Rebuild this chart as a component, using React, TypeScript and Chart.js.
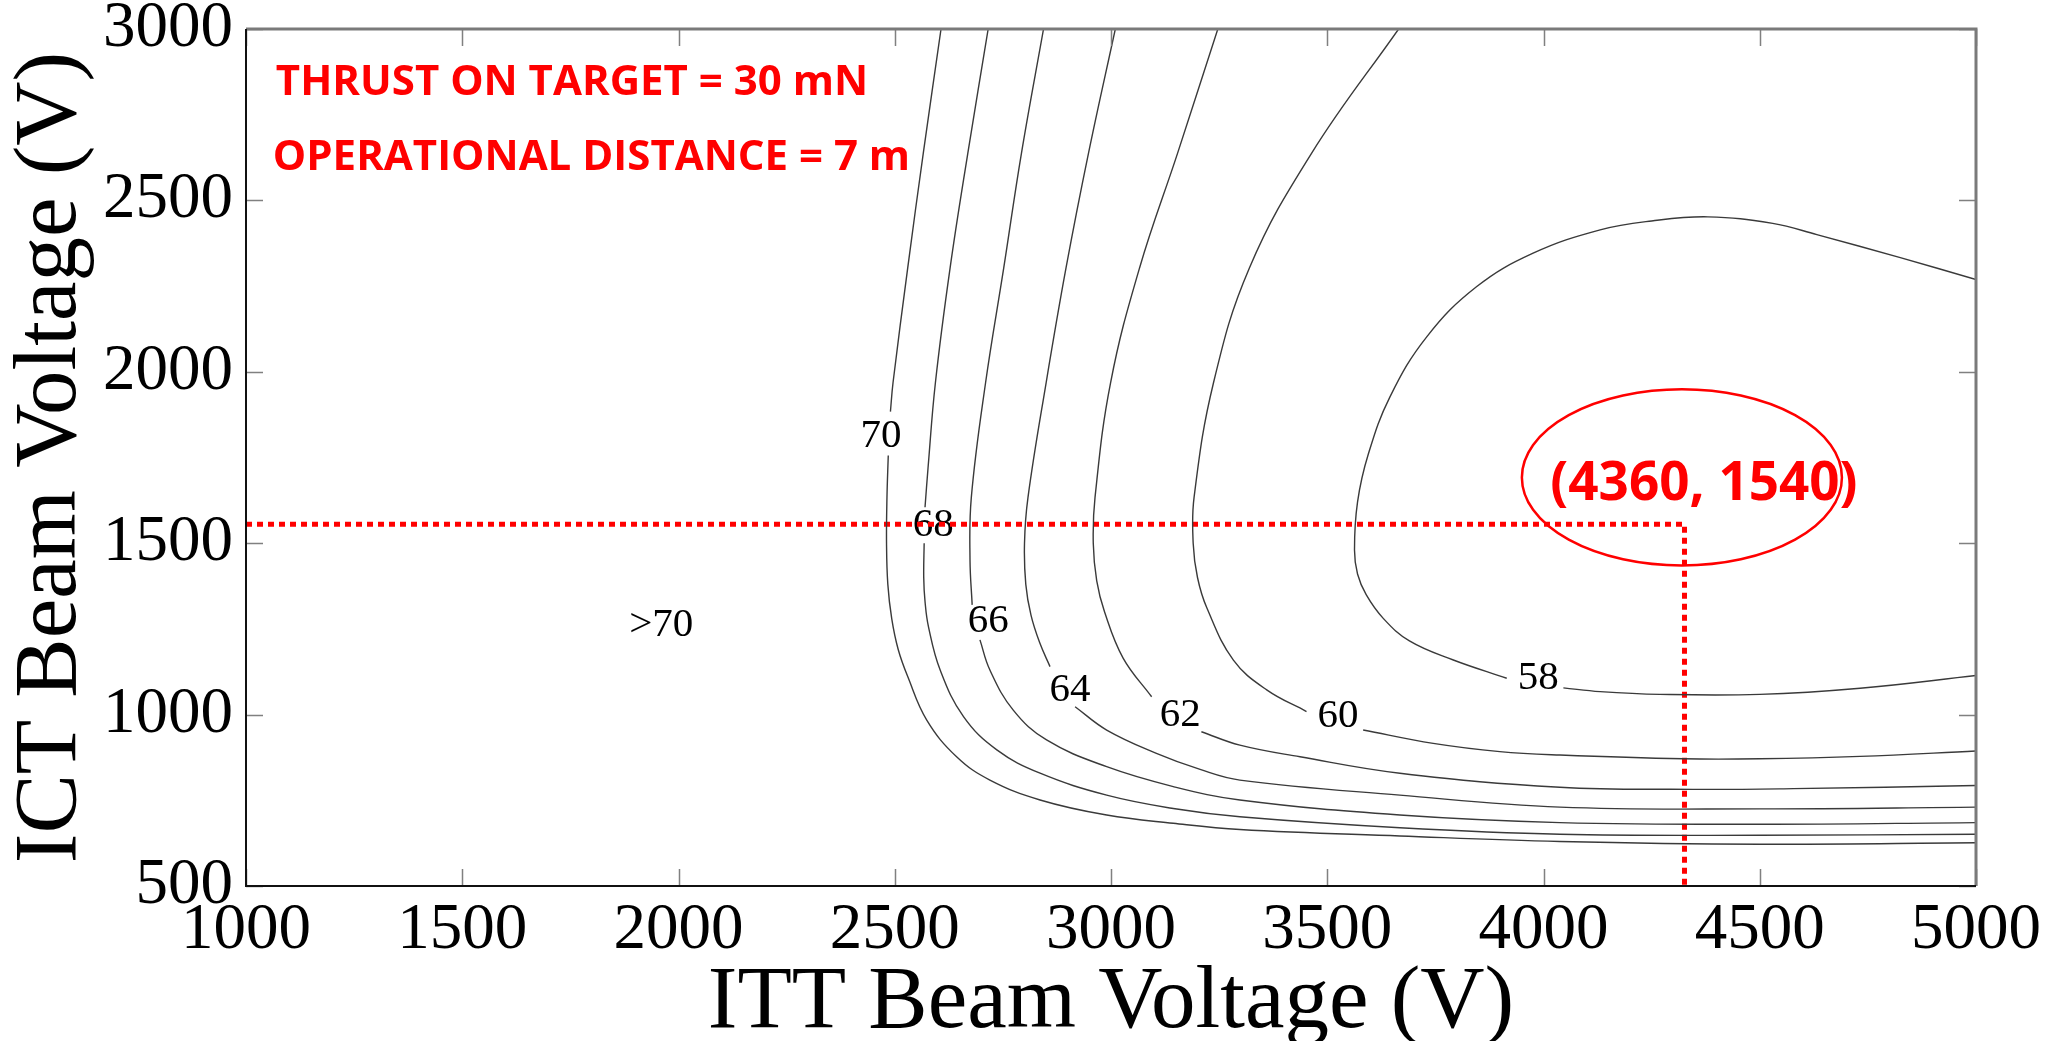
import React, { useEffect, useRef } from 'react';
import { Chart, registerables } from 'chart.js';

Chart.register(...registerables);

// ---- Axis ----
const xMin = 1000;
const xMax = 5000;
const yMin = 500;
const yMax = 3000;
const tickStep = 500;
const xTitle = 'ITT Beam Voltage (V)';
const yTitle = 'ICT Beam Voltage (V)';

// ---- Contour lines (null = gap for inline label) ----
const c70X = [2607, 2566, 2530, 2496, 2490, null, 2485, 2482, 2481, 2484, 2493, 2508, 2530, 2574, 2643, 2720, 2836, 2990, 3144, 3298, 3668, 4038, 4500, 5000];
const c70Y = [3000, 2638, 2303, 1968, 1884, null, 1756, 1633, 1500, 1380, 1280, 1190, 1111, 984, 877, 809, 751, 707, 683, 665, 646, 630, 622, 626];

const c68X = [2716, 2669, 2628, 2594, 2577, 2570, null, 2568, 2567, 2570, 2578, 2605, 2659, 2736, 2836, 2990, 3144, 3298, 3668, 4038, 4500, 5000];
const c68Y = [3000, 2638, 2303, 1968, 1720, 1605, null, 1500, 1400, 1330, 1256, 1130, 994, 897, 829, 765, 726, 702, 670, 651, 648, 651];

const c66X = [2844, 2793, 2752, 2710, 2677, 2674, 2679, null, 2697, 2720, 2774, 2851, 2990, 3144, 3298, 3668, 4038, 4500, 5000];
const c66Y = [3000, 2638, 2303, 1968, 1633, 1451, 1320, null, 1218, 1130, 1013, 926, 848, 790, 751, 707, 685, 680, 685];

const c64X = [3010, 2948, 2896, 2850, 2808, 2800, 2803, 2815, 2835, 2859, null, 2917, 2990, 3105, 3206, 3298, 3668, 4038, 4500, 5000];
const c64Y = [3000, 2638, 2303, 1968, 1633, 1500, 1380, 1290, 1210, 1140, null, 1023, 955, 887, 840, 809, 765, 730, 725, 730];

const c62X = [3247, 3154, 3066, 2999, 2963, 2959, 2967, 2985, 3028, 3094, null, 3209, 3298, 3437, 3668, 4038, 4346, 4578, 5000];
const c62Y = [3000, 2638, 2303, 1968, 1633, 1500, 1390, 1300, 1165, 1052, null, 950, 911, 877, 829, 788, 782, 784, 793];

const c60X = [3665, 3464, 3320, 3237, 3192, 3190, 3200, 3222, 3283, 3360, 3452, null, 3583, 3745, 3899, 4038, 4323, 4500, 4732, 5000];
const c60Y = [3000, 2638, 2303, 1968, 1633, 1500, 1400, 1310, 1159, 1072, 1009, null, 955, 916, 892, 882, 871, 871, 878, 894];

const c58X = [5000, 4825, 4632, 4530, 4380, 4250, 4131, 3976, 3845, 3730, 3645, 3595, 3570, 3563, 3570, 3590, 3630, 3690, 3790, 3915, null, 4046, 4131, 4269, 4500, 4732, 5000];
const c58Y = [2269, 2333, 2400, 2433, 2452, 2440, 2414, 2346, 2248, 2102, 1927, 1760, 1620, 1480, 1410, 1350, 1280, 1215, 1160, 1106, null, 1078, 1067, 1059, 1059, 1077, 1114];

// ---- Contour labels ----
const contourLabels = ['70', '68', '66', '64', '62', '60', '58', '>70'];
const contourLabelX = [2468, 2589, 2716, 2905, 3160, 3525, 3988, 1960];
const contourLabelY = [1812, 1553, 1271, 1072, 999, 994, 1106, 1260];

// ---- Operating point markers ----
const markerX = [1000, 4326, 4326];
const markerY = [1555, 1555, 500];
const ellipseCenterX = 4320;
const ellipseCenterY = 1692;
const ellipseRadiusX = 370;
const ellipseRadiusY = 257;
const pointLabel = '(4360, 1540)';
const pointLabelX = 4371;
const pointLabelY = 1670;

// ---- Header annotations ----
const noteTexts = ['THRUST ON TARGET = 30 mN', 'OPERATIONAL DISTANCE = 7 m'];
const noteX = [1069, 1062];
const noteY = [2842, 2624];

const contourXs = [c70X, c68X, c66X, c64X, c62X, c60X, c58X];
const contourYs = [c70Y, c68Y, c66Y, c64Y, c62Y, c60Y, c58Y];

const SERIF = '"Liberation Serif", "DejaVu Serif", serif';
const SANS = '"Open Sans", "Noto Sans", sans-serif';

const labelPlugin = {
  id: 'contourLabels',
  beforeDatasetsDraw(chart: any) {
    const { ctx, scales } = chart;
    const xs = scales.x;
    const ys = scales.y;
    ctx.save();
    ctx.fillStyle = '#000';
    ctx.font = `41px ${SERIF}`;
    ctx.textAlign = 'center';
    ctx.textBaseline = 'middle';
    contourLabels.forEach((t, i) => {
      ctx.fillText(t, xs.getPixelForValue(contourLabelX[i]), ys.getPixelForValue(contourLabelY[i]));
    });
    ctx.restore();
  },
  afterDatasetsDraw(chart: any) {
    const { ctx, scales } = chart;
    const xs = scales.x;
    const ys = scales.y;
    ctx.save();
    const cx = xs.getPixelForValue(ellipseCenterX);
    const cy = ys.getPixelForValue(ellipseCenterY);
    const rx = Math.abs(xs.getPixelForValue(ellipseCenterX + ellipseRadiusX) - cx);
    const ry = Math.abs(ys.getPixelForValue(ellipseCenterY + ellipseRadiusY) - cy);
    ctx.strokeStyle = '#ff0000';
    ctx.lineWidth = 2.5;
    ctx.beginPath();
    ctx.ellipse(cx, cy, rx, ry, 0, 0, Math.PI * 2);
    ctx.stroke();
    ctx.fillStyle = '#ff0000';
    ctx.font = `bold 53px ${SANS}`;
    ctx.textAlign = 'center';
    ctx.textBaseline = 'middle';
    ctx.fillText(pointLabel, xs.getPixelForValue(pointLabelX), ys.getPixelForValue(pointLabelY));
    ctx.font = `bold 42px ${SANS}`;
    ctx.textAlign = 'left';
    noteTexts.forEach((t, i) => {
      ctx.fillText(t, xs.getPixelForValue(noteX[i]), ys.getPixelForValue(noteY[i]));
    });
    ctx.restore();
  },
  afterDraw(chart: any) {
    const { ctx, chartArea, scales } = chart;
    const { left, right, top, bottom } = chartArea;
    const tl = 17;
    ctx.save();
    ctx.strokeStyle = '#808080';
    ctx.lineWidth = 1.5;
    ctx.beginPath();
    scales.x.ticks.forEach((t: any) => {
      const px = Math.round(scales.x.getPixelForValue(t.value)) + 0.5;
      ctx.moveTo(px, bottom);
      ctx.lineTo(px, bottom - tl);
      ctx.moveTo(px, top);
      ctx.lineTo(px, top + tl);
    });
    scales.y.ticks.forEach((t: any) => {
      const py = Math.round(scales.y.getPixelForValue(t.value)) + 0.5;
      ctx.moveTo(left, py);
      ctx.lineTo(left + tl, py);
      ctx.moveTo(right, py);
      ctx.lineTo(right - tl, py);
    });
    ctx.stroke();
    ctx.strokeStyle = '#7a7a7a';
    ctx.lineWidth = 3;
    ctx.beginPath();
    ctx.moveTo(left, top);
    ctx.lineTo(right, top);
    ctx.lineTo(right, bottom);
    ctx.stroke();
    ctx.strokeStyle = '#111';
    ctx.lineWidth = 2;
    ctx.beginPath();
    ctx.moveTo(left, top);
    ctx.lineTo(left, bottom);
    ctx.lineTo(right, bottom);
    ctx.stroke();
    ctx.restore();
  },
};

export default function App() {
  const ref = useRef<HTMLCanvasElement | null>(null);
  useEffect(() => {
    if (!ref.current) return;
    const datasets: any[] = contourXs.map((xsArr, k) => ({
      label: 'c' + k,
      data: xsArr.map((x, i) => ({ x, y: contourYs[k][i] })),
      showLine: true,
      borderColor: '#3a3a3a',
      borderWidth: 1.4,
      pointRadius: 0,
      tension: 0.4,
      spanGaps: false,
    }));
    datasets.push({
      label: 'marker',
      data: markerX.map((x, i) => ({ x, y: markerY[i] })),
      showLine: true,
      borderColor: '#ff0000',
      borderWidth: 5,
      borderDash: [6, 5],
      borderCapStyle: 'butt',
      pointRadius: 0,
      tension: 0,
    });
    const chart = new Chart(ref.current, {
      type: 'scatter',
      data: { datasets },
      options: {
        animation: false,
        responsive: false,
        devicePixelRatio: 1,
        layout: { padding: { top: 69, right: 79, bottom: 0, left: 0 } },
        plugins: { legend: { display: false }, tooltip: { enabled: false } },
        scales: {
          x: {
            type: 'linear',
            min: xMin,
            max: xMax,
            afterFit: (s: any) => { s.height = 162; },
            grid: { display: false, drawTicks: false },
            border: { display: false },
            ticks: {
              stepSize: tickStep,
              autoSkip: false,
              maxRotation: 0,
              padding: 12,
              color: '#000',
              font: { family: SERIF, size: 65, lineHeight: 1 },
              callback: (v: any) => String(v),
            },
            title: {
              display: true,
              text: xTitle,
              color: '#000',
              font: { family: SERIF, size: 89, lineHeight: 1 },
              padding: { top: 0, bottom: 0 },
            },
          },
          y: {
            type: 'linear',
            min: yMin,
            max: yMax,
            afterFit: (s: any) => { s.width = 246; },
            grid: { display: false, drawTicks: false },
            border: { display: false },
            ticks: {
              stepSize: tickStep,
              autoSkip: false,
              padding: 13,
              color: '#000',
              font: { family: SERIF, size: 65, lineHeight: 1 },
              callback: (v: any) => String(v),
            },
            title: {
              display: true,
              text: yTitle,
              color: '#000',
              font: { family: SERIF, size: 89, lineHeight: 1 },
              padding: { top: 7, bottom: 0 },
            },
          },
        },
      },
      plugins: [labelPlugin],
    } as any);
    return () => chart.destroy();
  }, []);
  return (
    <div style={{ position: 'fixed', left: 0, top: 0, width: 2055, height: 1041, overflow: 'hidden', background: '#fff' }}>
      <canvas
        ref={ref}
        width={2055}
        height={1088}
        style={{ position: 'absolute', left: 0, top: -40, width: 2055, height: 1088 }}
      />
    </div>
  );
}
